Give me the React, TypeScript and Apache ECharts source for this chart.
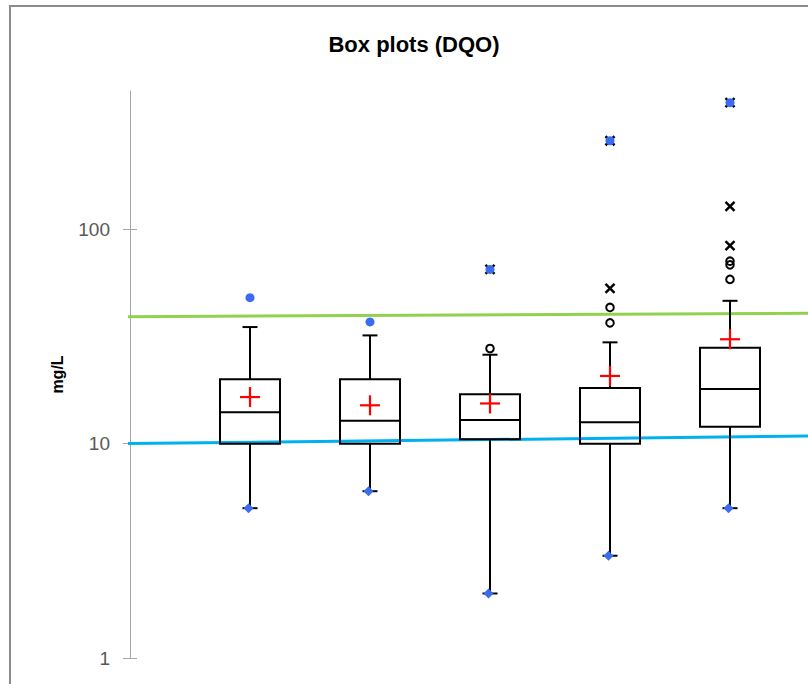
import React, { useEffect, useRef } from 'react';
import * as echarts from 'echarts';

// ---- data ----
const groups = ['1', '2', '3', '4', '5'];
const minimum = [5, 6, 2, 3, 5];
const q1 = [10, 10, 10.5, 10, 12];
const median = [14, 12.8, 12.9, 12.6, 18];
const q3 = [20, 20, 17, 18.2, 28];
const upperWhisker = [35, 32, 26, 29.7, 46.4];
const mean = [16.5, 15.1, 15.4, 20.7, 30.7];
const maximum = [48, 37, 65, 259, 390];
const outliers: number[][] = [[], [], [27.8], [36.6, 43.2], [58.4, 68.3, 71]];
const extremes: number[][] = [[], [], [65], [53, 259], [84, 128, 390]];
const yTicks = [1, 10, 100];
const yMin = 1;
const yMax = 442;
const xMin = 0;
const xMax = 5.65;
const greenLine = [[-0.04, 39.1], [5.65, 40.6]];
const blueLine = [[-0.067, 10], [5.65, 10.85]];

const FONT = '"Liberation Sans", Arial, sans-serif';
const BLUE = '#3b6cf0';

export default function App() {
  const ref = useRef<HTMLDivElement>(null);
  useEffect(() => {
    if (!ref.current) return;
    const chart = echarts.init(ref.current, undefined, { renderer: 'svg' });
    const boxData = groups.map((g, i) => [
      i + 1, minimum[i], q1[i], median[i], q3[i], upperWhisker[i], mean[i], maximum[i],
    ]);
    const option: any = {
      animation: false,
      backgroundColor: '#ffffff',
      grid: { left: 130, top: 91, right: 0, height: 567, containLabel: false },
      xAxis: [{ type: 'value', min: xMin, max: xMax, show: false }],
      yAxis: [
        {
          type: 'log', logBase: 10, min: yMin, max: yMax,
          axisLine: { show: true, lineStyle: { color: '#a6a6a6', width: 1 } },
          axisTick: { show: true, length: 7, customValues: yTicks, lineStyle: { color: '#a6a6a6', width: 1 } },
          axisLabel: { customValues: yTicks, color: '#595959', fontSize: 19, fontFamily: FONT, margin: 20 },
          splitLine: { show: false },
          name: 'mg/L', nameLocation: 'middle', nameRotate: 90, nameGap: 65,
          nameTextStyle: { fontWeight: 'bold', fontSize: 16, color: '#000', fontFamily: FONT },
        },
        {
          type: 'log', logBase: 10, min: yMin, max: yMax, position: 'left',
          axisLine: { show: false },
          axisTick: { show: true, inside: true, length: 7, customValues: yTicks, lineStyle: { color: '#a6a6a6', width: 1 } },
          axisLabel: { show: false },
          splitLine: { show: false },
        },
      ],
      graphic: [
        {
          type: 'rect', silent: true, z: -10,
          shape: { x: 10, y: 6, width: 900, height: 800 },
          style: { fill: 'none', stroke: '#8c8c8c', lineWidth: 2 },
        },
        {
          type: 'text', x: 414, y: 44, silent: true,
          style: {
            text: 'Box plots (DQO)', fontSize: 22, fontWeight: 'bold', fontFamily: FONT, fill: '#000',
            align: 'center', verticalAlign: 'middle', textAlign: 'center', textVerticalAlign: 'middle',
          },
        },
      ],
      series: [
        {
          type: 'line', data: greenLine, symbol: 'none', clip: false, silent: true, z: 1,
          lineStyle: { color: '#92D050', width: 3 },
        },
        {
          type: 'line', data: blueLine, symbol: 'none', clip: false, silent: true, z: 1,
          lineStyle: { color: '#00B0F0', width: 3 },
        },
        {
          type: 'custom', z: 5, clip: false, silent: true,
          data: boxData,
          encode: { x: 0, y: [1, 2, 3, 4, 5, 6, 7] },
          renderItem: (params: any, api: any) => {
            const i = params.dataIndex;
            const xv = api.value(0);
            const x = api.coord([xv, 1])[0];
            const Y = (v: number) => api.coord([xv, v])[1];
            const vMin = api.value(1), vQ1 = api.value(2), vMed = api.value(3), vQ3 = api.value(4);
            const vUp = api.value(5), vMean = api.value(6), vMax = api.value(7);
            const bw = 60, cap = 15, plus = 20;
            const blk = { stroke: '#000', lineWidth: 2, fill: 'none' };
            const ch: any[] = [];
            ch.push({ type: 'line', shape: { x1: x, y1: Y(vQ3), x2: x, y2: Y(vUp) }, style: blk });
            ch.push({ type: 'line', shape: { x1: x, y1: Y(vQ1), x2: x, y2: Y(vMin) }, style: blk });
            ch.push({ type: 'line', shape: { x1: x - cap / 2, y1: Y(vUp), x2: x + cap / 2, y2: Y(vUp) }, style: blk });
            ch.push({ type: 'line', shape: { x1: x - cap / 2, y1: Y(vMin), x2: x + cap / 2, y2: Y(vMin) }, style: blk });
            const yq3 = Y(vQ3), yq1 = Y(vQ1);
            ch.push({ type: 'rect', shape: { x: x - bw / 2, y: yq3, width: bw, height: yq1 - yq3 }, style: blk });
            ch.push({ type: 'line', shape: { x1: x - bw / 2, y1: Y(vMed), x2: x + bw / 2, y2: Y(vMed) }, style: blk });
            const ym = Y(vMean);
            const red = { stroke: '#ff0000', lineWidth: 2.2 };
            ch.push({ type: 'line', shape: { x1: x - plus / 2, y1: ym, x2: x + plus / 2, y2: ym }, style: red });
            ch.push({ type: 'line', shape: { x1: x, y1: ym - plus / 2, x2: x, y2: ym + plus / 2 }, style: red });
            outliers[i].forEach((v) => {
              ch.push({ type: 'circle', shape: { cx: x, cy: Y(v), r: 3.8 }, style: { fill: 'none', stroke: '#000', lineWidth: 2 } });
            });
            extremes[i].forEach((v) => {
              const yy = Y(v), s = 4.5;
              ch.push({ type: 'line', shape: { x1: x - s, y1: yy - s, x2: x + s, y2: yy + s }, style: { stroke: '#000', lineWidth: 2.5 } });
              ch.push({ type: 'line', shape: { x1: x - s, y1: yy + s, x2: x + s, y2: yy - s }, style: { stroke: '#000', lineWidth: 2.5 } });
            });
            const ymin = Y(vMin);
            ch.push({
              type: 'polygon',
              shape: { points: [[x - 1.5, ymin - 5], [x + 3.5, ymin], [x - 1.5, ymin + 5], [x - 6.5, ymin]] },
              style: { fill: BLUE },
            });
            ch.push({ type: 'circle', shape: { cx: x, cy: Y(vMax), r: 4.5 }, style: { fill: BLUE } });
            return { type: 'group', children: ch };
          },
        },
      ],
    };
    chart.setOption(option);
    return () => chart.dispose();
  }, []);
  return (
    <div
      ref={ref}
      style={{ position: 'fixed', left: 0, top: 0, width: 808, height: 684, background: '#fff' }}
    />
  );
}
